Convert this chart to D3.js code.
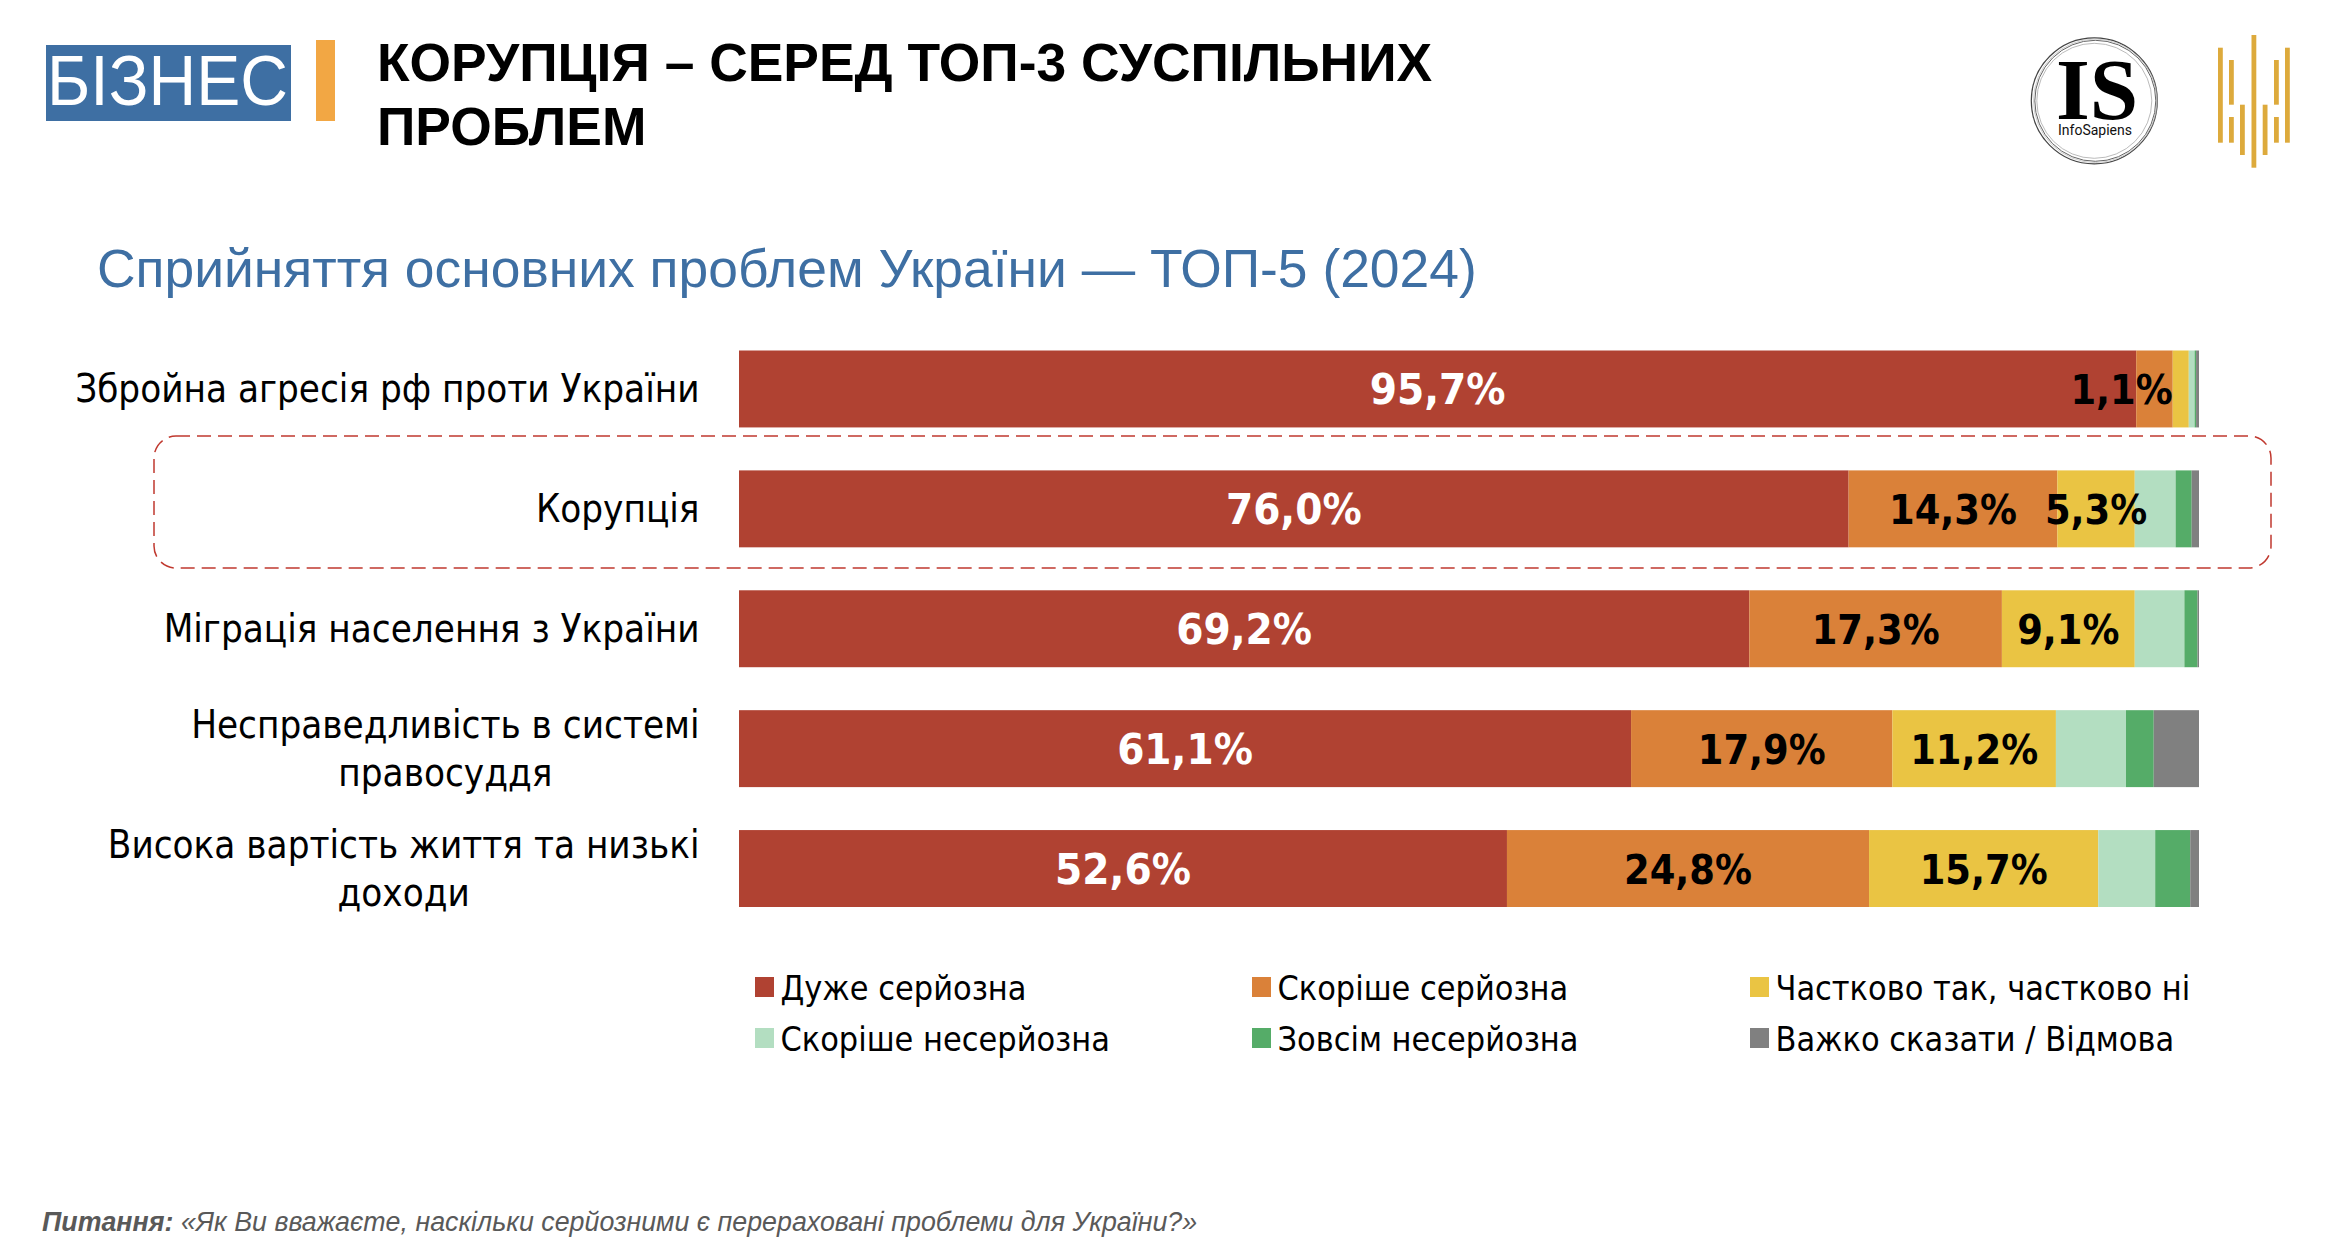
<!DOCTYPE html>
<html lang="uk">
<head>
<meta charset="utf-8">
<script src="https://cdn.jsdelivr.net/npm/d3@7/dist/d3.min.js"></script>
<style>
html,body{margin:0;padding:0;background:#fff;}
svg{display:block;}
.sans{font-family:"Liberation Sans",Arial,sans-serif;}
.tah{font-family:"DejaVu Sans Condensed","DejaVu Sans",sans-serif;font-stretch:condensed;}
.val{font-family:"DejaVu Sans Condensed","DejaVu Sans",sans-serif;font-stretch:condensed;font-weight:700;}
</style>
</head>
<body>
<svg id="c" width="2342" height="1256" viewBox="0 0 2342 1256"></svg>
<script>
const categories = [
  ["Збройна агресія рф проти України"],
  ["Корупція"],
  ["Міграція населення з України"],
  ["Несправедливість в системі","правосуддя"],
  ["Висока вартість життя та низькі","доходи"]
];
const seriesNames = ["Дуже серйозна","Скоріше серйозна","Частково так, частково ні","Скоріше несерйозна","Зовсім несерйозна","Важко сказати / Відмова"];
const seriesColors = ["#B04232","#DA8139","#EAC443","#B3DEC1","#55AC68","#808080"];
const verySerious   = [95.7,76.0,69.2,61.1,52.6];
const ratherSerious = [2.5,14.3,17.3,17.9,24.8];
const partly        = [1.1,5.3,9.1,11.2,15.7];
const ratherNot     = [0.4,2.8,3.4,4.8,3.9];
const notAtAll      = [0.1,1.1,0.9,1.9,2.4];
const hardToSay     = [0.2,0.5,0.1,3.1,0.6];
const allSeries = [verySerious,ratherSerious,partly,ratherNot,notAtAll,hardToSay];
const labelledSeries = [0,1,2];
const labelFormat = v => v.toFixed(1).replace(".",",")+"%";

const svg = d3.select("#c");
const x = d3.scaleLinear().domain([0,100]).range([739,2199]);
const y = d3.scaleBand().domain(d3.range(categories.length)).range([350.5,907]).paddingInner(43/120).paddingOuter(0);

// header
svg.append("rect").attr("x",46).attr("y",45).attr("width",245).attr("height",76).attr("fill","#3E6FA3");
svg.append("text").attr("class","sans").attr("x",47).attr("y",105).attr("font-size",70).attr("fill","#fff")
  .attr("textLength",241).attr("lengthAdjust","spacingAndGlyphs").text("БІЗНЕС");
svg.append("rect").attr("x",316).attr("y",40).attr("width",19).attr("height",81).attr("fill","#F2A744");
const tl = ["КОРУПЦІЯ – СЕРЕД ТОП-3 СУСПІЛЬНИХ","ПРОБЛЕМ"];
svg.selectAll(".tl").data(tl).join("text").attr("class","sans tl").attr("x",377).attr("y",(d,i)=>80.5+i*64)
  .attr("font-size",53.4).attr("font-weight",700).attr("fill","#000").text(d=>d);
svg.append("text").attr("class","sans").attr("x",97).attr("y",287).attr("font-size",53.4).attr("fill","#3E6FA3").text("Сприйняття основних проблем України — ТОП-5 (2024)");

// logo
const logo = svg.append("g");
[[63,1.2,"#444"],[60.5,1,"#666"],[57.5,0.8,"#aaa"],[61.8,0.7,"#bbb"]].forEach((r,i)=>{
  logo.append("circle").attr("cx",2094.7+(i%2?0.6:-0.4)).attr("cy",100.8).attr("r",r[0]).attr("fill","none").attr("stroke",r[2]).attr("stroke-width",r[1]);
});
logo.append("text").attr("x",2097).attr("y",119).attr("text-anchor","middle").attr("font-family","Liberation Serif").attr("font-weight",700).attr("font-size",87).attr("fill","#000").text("IS");
logo.append("text").attr("x",2095).attr("y",135).attr("text-anchor","middle").attr("font-family","Roboto").attr("font-size",14).attr("fill","#111").text("InfoSapiens");
const gold = [[2218,47.7,142.7],[2229,60,104.7],[2229,117,142.7],[2240,104.7,155],[2251.5,35,167.7],[2262.7,104.7,155],[2274,60,104.7],[2274,117,142.7],[2285,47.7,142.7]];
svg.append("g").selectAll("rect").data(gold).join("rect").attr("x",d=>d[0]).attr("y",d=>d[1]).attr("width",4.8).attr("height",d=>d[2]-d[1]).attr("fill","#DDAA3C");

// highlight
svg.append("rect").attr("x",154).attr("y",436).attr("width",2117).attr("height",132).attr("rx",22)
  .attr("fill","none").attr("stroke","#C0392F").attr("stroke-width",1.5).attr("stroke-dasharray","14 7");

// stacked bars
const rows = categories.map((c,i)=>{let acc=0;return allSeries.map((s,k)=>{const d={row:i,k,v:s[i],x0:acc};acc+=s[i];d.x1=acc;return d;});});
svg.append("g").selectAll("g").data(rows).join("g").selectAll("rect").data(d=>d).join("rect")
  .attr("x",d=>x(d.x0)).attr("y",d=>y(d.row)).attr("width",d=>x(d.x1)-x(d.x0)).attr("height",y.bandwidth()).attr("fill",d=>seriesColors[d.k]);

// value labels: slim segments print beside the bar part; the 2–3 % orange sliver prints none
const vals = rows.flat().filter(d=>labelledSeries.includes(d.k) && !(d.v>=2 && d.v<3));
svg.append("g").selectAll("text").data(vals).join("text").attr("class","val")
  .attr("font-size",d=>d.k===0?43.5:41).attr("fill",d=>d.k===0?"#fff":"#000")
  .attr("y",d=>y(d.row)+y.bandwidth()/2+15)
  .attr("text-anchor",d=>d.v<2?"end":"middle")
  .attr("x",d=>d.v<2?x(d.x0):x((d.x0+d.x1)/2))
  .text(d=>labelFormat(d.v));

// category labels
categories.forEach((lines,i)=>{
  const n=lines.length, cy=y(i)+y.bandwidth()/2;
  const g=svg.append("g").attr("class","tah");
  const first=g.append("text").attr("font-size",38.2).attr("fill","#000").attr("text-anchor","end").attr("x",699.5)
    .attr("y",cy+13-(n-1)*24).text(lines[0]);
  if(n>1){
    const w=first.node().getComputedTextLength();
    g.append("text").attr("font-size",38.2).attr("fill","#000").attr("text-anchor","middle").attr("x",699.5-w/2).attr("y",cy+13+24).text(lines[1]);
  }
});

// legend
const colX=[755,1252,1750], rowY=[977,1028];
const lg=svg.append("g").selectAll("g").data(seriesNames).join("g")
  .attr("transform",(d,i)=>`translate(${colX[i%3]},${rowY[Math.floor(i/3)]})`);
lg.append("rect").attr("width",19).attr("height",20).attr("fill",(d,i)=>seriesColors[i]);
lg.append("text").attr("class","tah").attr("x",25.5).attr("y",22.5).attr("font-size",33.9).attr("fill","#000").text(d=>d);

// footnote
const fn=svg.append("text").attr("class","sans").attr("x",42).attr("y",1231).attr("font-size",26.8).attr("font-style","italic").attr("fill","#595959");
fn.append("tspan").attr("font-weight",700).text("Питання: ");
fn.append("tspan").text("«Як Ви вважаєте, наскільки серйозними є перераховані проблеми для України?»");
</script>
</body>
</html>
